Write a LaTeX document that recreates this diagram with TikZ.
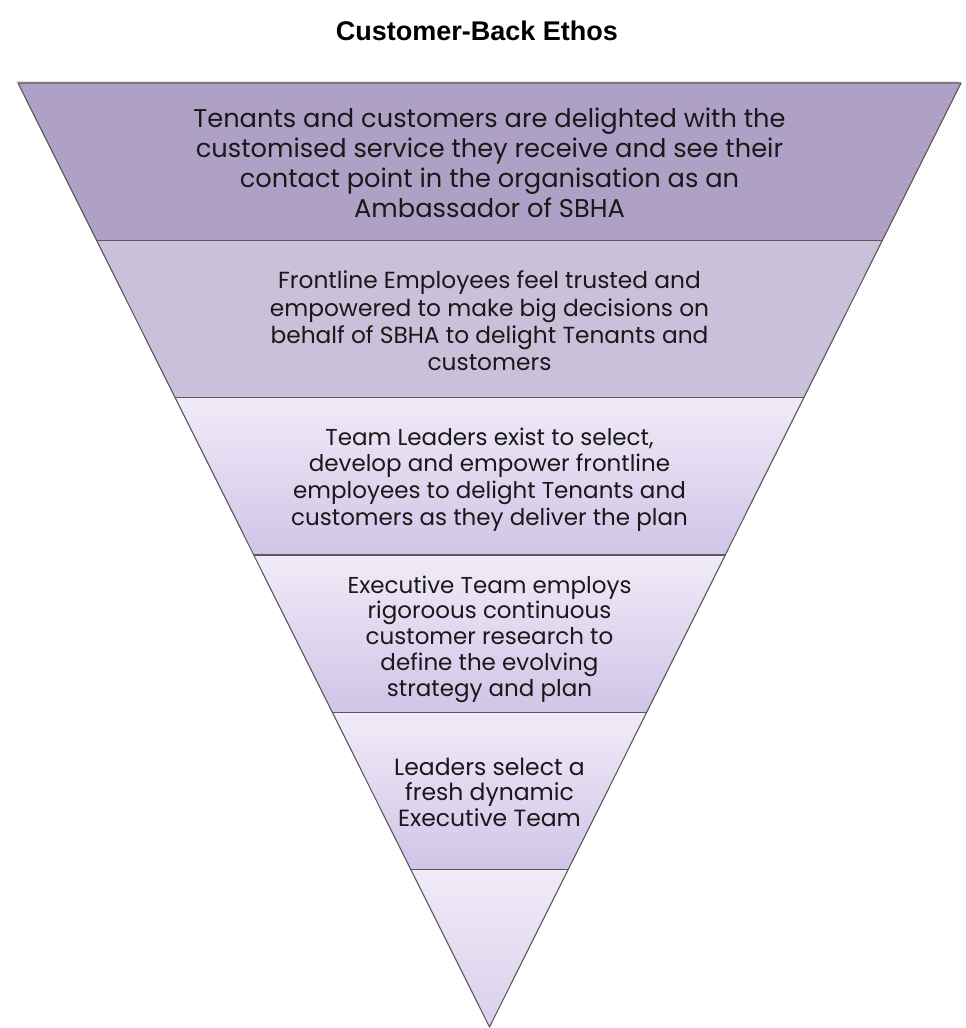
\documentclass[tikz,border=0pt]{standalone}
\usepackage{fontspec}
\setmainfont{Poppins}
\newfontfamily\titlefont{Liberation Sans}
\begin{document}
\begin{tikzpicture}[x=1pt,y=-1pt,
  bandline/.style={draw=black!65, line width=1.1pt, line join=round},
  bandtext/.style={align=center, text=black!90, inner sep=0pt},
]
\definecolor{bandA}{HTML}{AFA0C5}
\definecolor{bandB}{HTML}{CBC0DA}
\definecolor{gradTop}{HTML}{F0EBF8}
\definecolor{gradBot}{HTML}{D1C4E7}
\useasboundingbox (0,0) rectangle (966,1028);
\fill[white] (0,0) rectangle (966,1028);
% corner coordinates
\coordinate (l0) at (18,83);      \coordinate (r0) at (961,83);
\coordinate (l1) at (96.67,240.33); \coordinate (r1) at (882.33,240.33);
\coordinate (l2) at (175.33,397.67); \coordinate (r2) at (803.67,397.67);
\coordinate (l3) at (254,555);    \coordinate (r3) at (725,555);
\coordinate (l4) at (332.67,712.33); \coordinate (r4) at (646.33,712.33);
\coordinate (l5) at (411.33,869.67); \coordinate (r5) at (567.67,869.67);
\coordinate (apex) at (489.5,1027);
% soft shadow
\fill[black!25, opacity=0.5] ([xshift=-2pt,yshift=2pt]l0) -- ([xshift=-2pt,yshift=2pt]r0) -- ([yshift=3pt]apex) -- cycle;
% bands
\fill[bandA] (l0) -- (r0) -- (r1) -- (l1) -- cycle;
\fill[bandB] (l1) -- (r1) -- (r2) -- (l2) -- cycle;
\shade[top color=gradTop, bottom color=gradBot] (l2) -- (r2) -- (r3) -- (l3) -- cycle;
\shade[top color=gradTop, bottom color=gradBot] (l3) -- (r3) -- (r4) -- (l4) -- cycle;
\shade[top color=gradTop, bottom color=gradBot] (l4) -- (r4) -- (r5) -- (l5) -- cycle;
\shade[top color=gradTop, bottom color=gradBot!80!white] (l5) -- (r5) -- (apex) -- cycle;
% outlines
\draw[bandline] (l0) -- (r0) -- (apex) -- cycle;
\draw[bandline] (l1) -- (r1);
\draw[bandline] (l2) -- (r2);
\draw[bandline] (l3) -- (r3);
\draw[bandline] (l4) -- (r4);
\draw[bandline] (l5) -- (r5);
% title
\node[inner sep=0pt] (title) at (477,31) {\titlefont\bfseries\fontsize{27}{30}\selectfont Customer-Back Ethos};
% texts
\node[bandtext, font=\fontsize{25.7}{30}\selectfont] (t1) at (489.5,163)
  {Tenants and customers are delighted with the\\customised service they receive and see their\\contact point in the organisation as an\\Ambassador of SBHA};
\node[bandtext, font=\fontsize{23.3}{27.3}\selectfont] (t2) at (489.5,321)
  {Frontline Employees feel trusted and\\empowered to make big decisions on\\behalf of SBHA to delight Tenants and\\customers};
\node[bandtext, font=\fontsize{23}{26.7}\selectfont] (t3) at (489.5,479.5)
  {Team Leaders exist to select,\\develop and empower frontline\\employees to delight Tenants and\\customers as they deliver the plan};
\node[bandtext, font=\fontsize{23}{25.8}\selectfont] (t4) at (489.5,639)
  {Executive Team employs\\rigoroous continuous\\customer research to\\define the evolving\\strategy and plan};
\node[bandtext, font=\fontsize{23.5}{25.5}\selectfont] (t5) at (489.5,792)
  {Leaders select a\\fresh dynamic\\Executive Team};
\end{tikzpicture}
\end{document}
